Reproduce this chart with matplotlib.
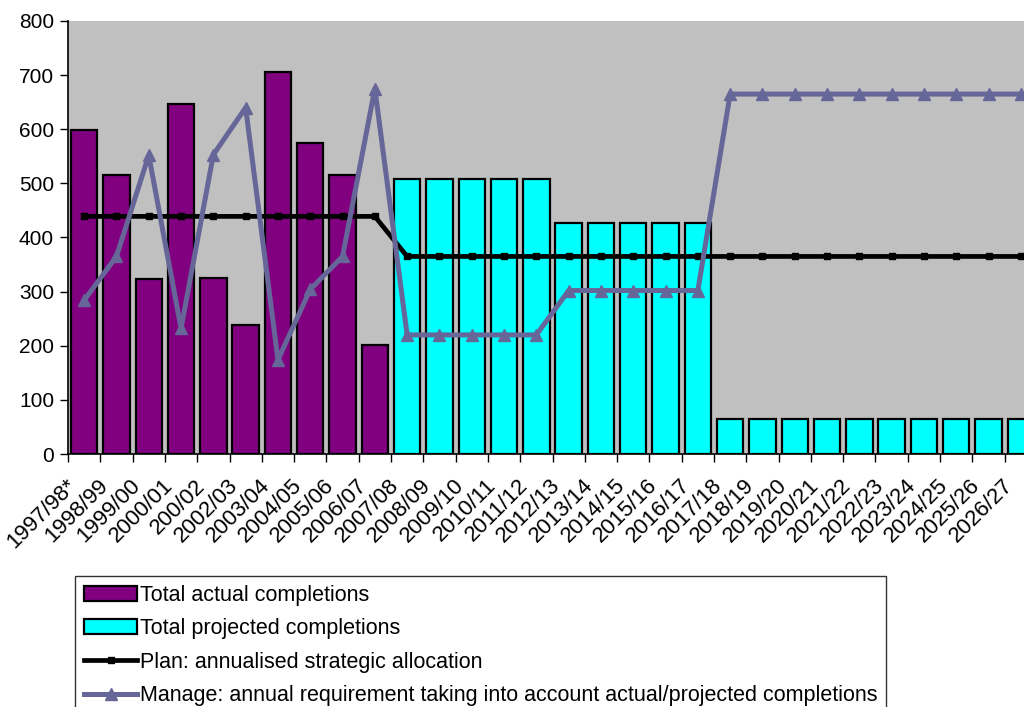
import numpy as np
import matplotlib.pyplot as plt
from matplotlib.patches import Patch
from matplotlib.lines import Line2D

plt.rcParams['font.family'] = ['Liberation Sans', 'DejaVu Sans']

years = ['1997/98*', '1998/99', '1999/00', '2000/01', '200/02', '2002/03',
         '2003/04', '2004/05', '2005/06', '2006/07', '2007/08', '2008/09',
         '2009/10', '2010/11', '2011/12', '2012/13', '2013/14', '2014/15',
         '2015/16', '2016/17', '2017/18', '2018/19', '2019/20', '2020/21',
         '2021/22', '2022/23', '2023/24', '2024/25', '2025/26', '2026/27']

# completions already built (first ten years)
actual = [598, 515, 323, 647, 325, 238, 705, 575, 515, 202]
# projected completions for the remaining years
projected = [509, 509, 509, 509, 509,
             427, 427, 427, 427, 427,
             64, 64, 64, 64, 64, 64, 64, 64, 64, 64]
plan = [439] * 10 + [365] * 20
manage = [284, 365, 552, 232, 553, 640, 174, 304, 365, 675,
          220, 220, 220, 220, 220,
          302, 302, 302, 302, 302,
          665, 665, 665, 665, 665, 665, 665, 665, 665, 665]

PURPLE = '#800080'
CYAN = '#00FFFF'
GREY = '#C0C0C0'
MANAGE = '#666699'

fig = plt.figure(figsize=(10.24, 7.07), dpi=100)
ax = fig.add_axes([68 / 1024, 1 - 454 / 707, 969 / 1024, 433 / 707])
ax.set_facecolor(GREY)

x = np.arange(len(years))
n_act = len(actual)
w = 0.82
ax.bar(x[:n_act], actual, width=w, color=PURPLE, edgecolor='black', linewidth=1.6, zorder=2)
ax.bar(x[n_act:], projected, width=w, color=CYAN, edgecolor='black', linewidth=1.6, zorder=2)
ax.plot(x, plan, color='black', lw=3.4, marker='s', ms=5, zorder=3)
ax.plot(x, manage, color=MANAGE, lw=3.6, marker='^', ms=8, zorder=4)

ax.set_xlim(-0.5, len(years) - 0.5)
ax.set_ylim(0, 800)
ax.set_yticks(range(0, 801, 100))
ax.set_xticks(np.arange(len(years) + 1) - 0.5, minor=False)
ax.set_xticklabels([])
ax.tick_params(axis='x', direction='out', length=6, width=1, color='black')
ax.tick_params(axis='y', direction='out', length=6, width=1, labelsize=15, pad=4)

# slanted category labels, ending just right of each category's left tick
for i, lab in enumerate(years):
    ax.text(i - 0.58, -39, lab, rotation=45, ha='right', va='top',
            rotation_mode='anchor', fontsize=16)

for side in ['top', 'right']:
    ax.spines[side].set_visible(False)
for side in ['left', 'bottom']:
    ax.spines[side].set_color('black')
    ax.spines[side].set_linewidth(1.2)

handles = [
    Patch(facecolor=PURPLE, edgecolor='black', linewidth=1.6),
    Patch(facecolor=CYAN, edgecolor='black', linewidth=1.6),
    Line2D([0], [0], color='black', lw=3.4, marker='s', ms=5),
    Line2D([0], [0], color=MANAGE, lw=3.6, marker='^', ms=8),
]
labels = ['Total actual completions', 'Total projected completions',
          'Plan: annualised strategic allocation',
          'Manage: annual requirement taking into account actual/projected completions']
leg = fig.legend(handles, labels, loc='upper left',
                 bbox_to_anchor=(75 / 1024, 1 - 576 / 707),
                 fontsize=15.5, frameon=True, fancybox=False, edgecolor='black',
                 borderaxespad=0, borderpad=0.4, handlelength=2.5,
                 handletextpad=0.1, labelspacing=0.58, markerscale=1)
leg.get_frame().set_linewidth(1.0)

fig.savefig('out.png', dpi=100)
